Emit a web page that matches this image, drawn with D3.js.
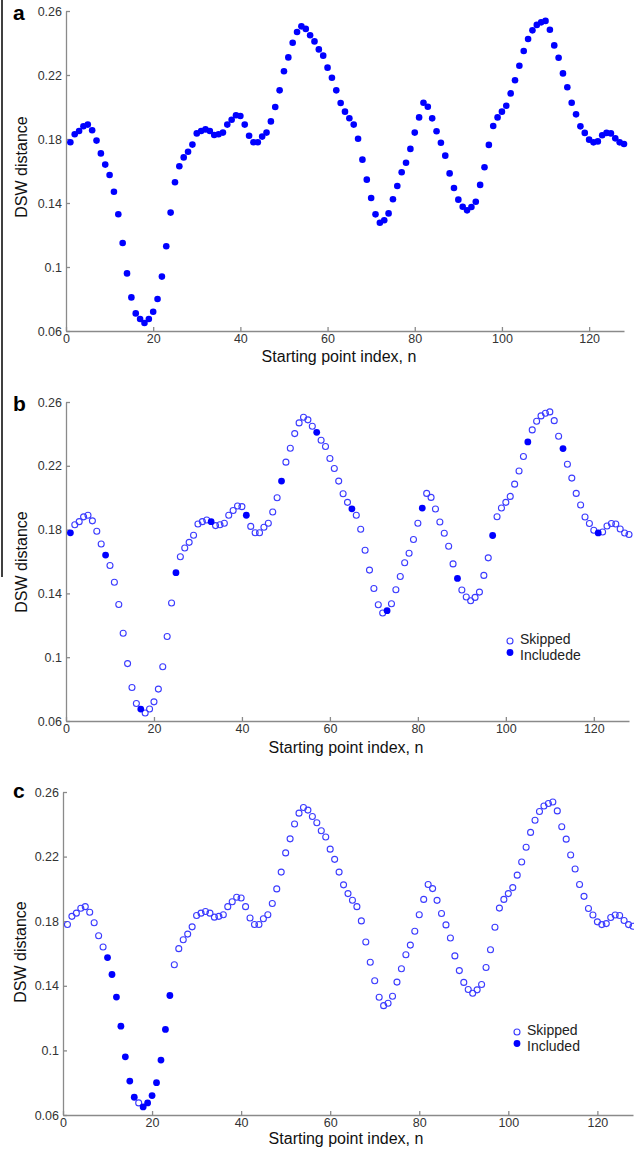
<!DOCTYPE html>
<html>
<head>
<meta charset="utf-8">
<script src="https://cdn.jsdelivr.net/npm/d3@7"></script>
<style>
	body { margin: 0; background: #fff; }
	svg { display: block; font-family: "Liberation Sans", Arial, sans-serif; }
	.axis path, .axis line { stroke: #8a8a8a; stroke-width: 1.3; }
	.axis text { fill: #333; font-size: 12.5px; font-family: "Liberation Sans", Arial, sans-serif; }
</style>
</head>
<body>
<div id="chart"></div>
<script>
// starting point index n (1..128) and DSW distance
var nIndex = d3.range(1, 129);
var dswDistance = [
	0.178, 0.183, 0.185, 0.188, 0.189, 0.1855, 0.179, 0.171, 0.164, 0.1575,
	0.147, 0.133, 0.115, 0.096, 0.081, 0.071, 0.0675, 0.065, 0.0675, 0.072,
	0.080, 0.094, 0.113, 0.134, 0.153, 0.163, 0.1685, 0.172, 0.1765, 0.1835,
	0.185, 0.186, 0.185, 0.1825, 0.183, 0.184, 0.189, 0.192, 0.1948, 0.1944,
	0.189, 0.182, 0.178, 0.178, 0.1815, 0.184, 0.191, 0.200, 0.2104, 0.2223,
	0.231, 0.2402, 0.2469, 0.2504, 0.2488, 0.2448, 0.241, 0.236, 0.2321, 0.2246,
	0.2183, 0.2104, 0.2025, 0.1971, 0.193, 0.189, 0.1802, 0.1671, 0.1546, 0.1431,
	0.1329, 0.1277, 0.1292, 0.1335, 0.1423, 0.1506, 0.1592, 0.1652, 0.1738, 0.184,
	0.1935, 0.2027, 0.2002, 0.1929, 0.1848, 0.1777, 0.1696, 0.1585, 0.1494, 0.1421,
	0.1377, 0.1354, 0.1375, 0.1408, 0.1513, 0.1623, 0.1763, 0.1881, 0.1935, 0.1971,
	0.2008, 0.2085, 0.2167, 0.2258, 0.235, 0.2425, 0.2479, 0.2513, 0.2529, 0.2538,
	0.2483, 0.2385, 0.2308, 0.221, 0.2123, 0.2027, 0.1954, 0.1879, 0.1838, 0.1796,
	0.1779, 0.1785, 0.1823, 0.1838, 0.1835, 0.1804, 0.1779, 0.1769
];
// indices drawn as filled dots in panels b and c
var includedB = [1, 9, 17, 25, 33, 41, 49, 57, 65, 73, 81, 89, 97, 105, 113, 121];
var includedC = [10, 11, 12, 13, 14, 15, 16, 18, 19, 20, 21, 22, 23, 24];

var yTicks = [0.06, 0.1, 0.14, 0.18, 0.22, 0.26];
var yTickLabels = ["0.06", "0.1", "0.14", "0.18", "0.22", "0.26"];
var xTicks = [0, 20, 40, 60, 80, 100, 120];
var xDomain = [0, 128];
var yDomain = [0.06, 0.26];
var legendB = ["Skipped", "Includede"];
var legendC = ["Skipped", "Included"];

var width = 634, height = 1159;
var blue = "#0000ff", ringBlue = "#3b3bff";

var svg = d3.select("#chart").append("svg")
	.attr("width", width)
	.attr("height", height);

// stray page border on the left of the original figure
svg.append("line")
	.attr("x1", 2).attr("x2", 2)
	.attr("y1", 0).attr("y2", 577)
	.attr("stroke", "#000").attr("stroke-width", 1.5);

var panels = [
	{ letter: "a", x0: 66, x1: 624, yTop: 11, yBot: 331, letterY: 20, ylabX: 27, ylabY: 167, xlabX: 339, xlabY: 362, mode: "all", legend: null },
	{ letter: "b", x0: 66, x1: 629, yTop: 402, yBot: 721, letterY: 411, ylabX: 27, ylabY: 562, xlabX: 346, xlabY: 753, mode: "b", legend: legendB, lx: 510, ly: 641, include: includedB },
	{ letter: "c", x0: 63, x1: 633, yTop: 792, yBot: 1115, letterY: 798, ylabX: 26, ylabY: 952, xlabX: 346, xlabY: 1144, mode: "c", legend: legendC, lx: 517, ly: 1032, include: includedC }
];

var points = nIndex.map(function(n, i) { return { n: n, v: dswDistance[i] }; });

panels.forEach(function(p) {
	var x = d3.scaleLinear().domain(xDomain).range([p.x0, p.x1]);
	var y = d3.scaleLinear().domain(yDomain).range([p.yBot, p.yTop]);
	var g = svg.append("g");

	g.append("g")
		.attr("class", "axis")
		.attr("transform", "translate(0," + p.yBot + ")")
		.call(d3.axisBottom(x).tickValues(xTicks).tickSizeInner(-4).tickSizeOuter(0).tickPadding(3));

	g.append("g")
		.attr("class", "axis")
		.attr("transform", "translate(" + p.x0 + ",0)")
		.call(d3.axisLeft(y).tickValues(yTicks)
			.tickFormat(function(d, i) { return yTickLabels[i]; })
			.tickSizeInner(-4).tickSizeOuter(0).tickPadding(4));

	g.append("text")
		.attr("x", 13).attr("y", p.letterY)
		.attr("font-size", 21).attr("font-weight", "bold")
		.text(p.letter);

	g.append("text")
		.attr("transform", "translate(" + p.ylabX + "," + p.ylabY + ") rotate(-90)")
		.attr("text-anchor", "middle")
		.attr("font-size", 16).attr("fill", "#111")
		.text("DSW distance");

	g.append("text")
		.attr("x", p.xlabX).attr("y", p.xlabY)
		.attr("text-anchor", "middle")
		.attr("font-size", 16).attr("fill", "#111")
		.text("Starting point index, n");

	if (p.mode === "all") {
		g.selectAll(".dot").data(points).enter()
			.append("circle")
			.attr("cx", function(d) { return x(d.n); })
			.attr("cy", function(d) { return y(d.v); })
			.attr("r", 3.3)
			.attr("fill", blue);
	} else {
		var inc = p.include;
		var skipped = points.filter(function(d) { return inc.indexOf(d.n) < 0; });
		var included = points.filter(function(d) { return inc.indexOf(d.n) >= 0; });

		g.selectAll(".ring").data(skipped).enter()
			.append("circle")
			.attr("cx", function(d) { return x(d.n); })
			.attr("cy", function(d) { return y(d.v); })
			.attr("r", 3)
			.attr("fill", "none")
			.attr("stroke", ringBlue)
			.attr("stroke-width", 1.1);

		g.selectAll(".dot").data(included).enter()
			.append("circle")
			.attr("cx", function(d) { return x(d.n); })
			.attr("cy", function(d) { return y(d.v); })
			.attr("r", 3.4)
			.attr("fill", blue);

		// legend
		g.append("circle")
			.attr("cx", p.lx).attr("cy", p.ly).attr("r", 3)
			.attr("fill", "none").attr("stroke", ringBlue).attr("stroke-width", 1.1);
		g.append("circle")
			.attr("cx", p.lx).attr("cy", p.ly + 11.5).attr("r", 3.4)
			.attr("fill", blue);
		g.selectAll(".leg").data(p.legend).enter()
			.append("text")
			.attr("x", p.lx + 10)
			.attr("y", function(d, i) { return p.ly + 3 + i * 15.5; })
			.attr("font-size", 14).attr("fill", "#222")
			.text(function(d) { return d; });
	}
});
</script>
</body>
</html>
